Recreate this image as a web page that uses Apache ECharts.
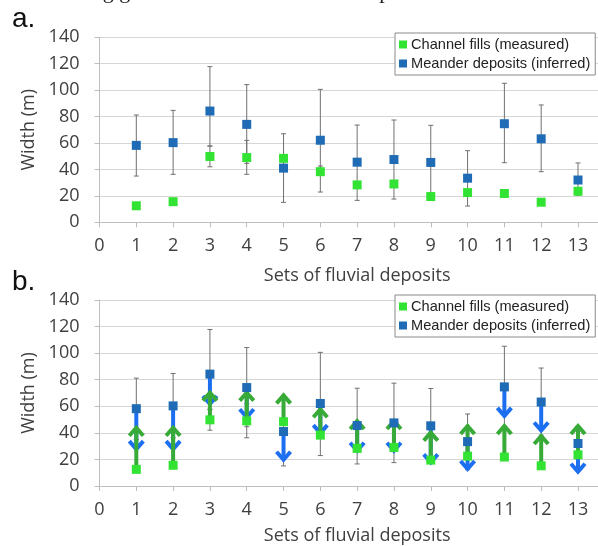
<!DOCTYPE html>
<html>
<head>
<meta charset="utf-8">
<script src="https://cdn.jsdelivr.net/npm/echarts@6/dist/echarts.min.js"></script>
<style>
  html, body { margin: 0; padding: 0; background: #fff; }
  #main { width: 598px; height: 546px; }
</style>
</head>
<body>
<div id="main"></div>
<script>
// sets of fluvial deposits
var sets = [1, 2, 3, 4, 5, 6, 7, 8, 9, 10, 11, 12, 13];
// widths (m)
var channelFills = [12.5, 15.6, 49.8, 49, 48.4, 38.3, 28.3, 29, 19.5, 22.5, 21.8, 15.2, 23.5];
var meanderDeposits = [58.2, 60.3, 84.2, 74.1, 41, 62.1, 45.5, 47.5, 45.3, 33.4, 74.6, 63.2, 32];
var meanderErrLow = [35, 36.3, 57.7, 44.6, 15.1, 22.9, 16.6, 17.6, 19, 12.3, 45.1, 38.3, 20.5];
var meanderErrHigh = [81.2, 84.7, 117.8, 104.2, 67, 100.6, 73.6, 77.4, 73.4, 54.2, 105.2, 88.8, 44.9];
var channelErrLow = [null, null, 42, 36.3, null, 38.3, null, null, null, null, null, null, null];
var channelErrHigh = [null, null, 57.7, 62, null, 42.6, null, null, null, null, null, null, null];
// panel b: arrow tips
var channelArrowTo = [44.6, 44.6, 71, 71, 69, 58.5, 49.7, 49.7, 40.9, 45.9, 45.9, 38.4, 45.9];
var meanderArrowTo = [27, 27, 61, 51, 19, 39, 25.8, 25.8, 17, 12, 52, 41, 10];
var yTicks = [0, 20, 40, 60, 80, 100, 120, 140];

var GREEN = '#33e333', BLUE = '#1f6bb5';
var GREEN_ARROW = '#38aa38', BLUE_ARROW = '#1c6ff0';
var NAME_C = 'Channel fills (measured)', NAME_M = 'Meander deposits (inferred)';

function pairs(ys) { return sets.map(function (x, i) { return [x, ys[i]]; }); }
function triples(a, b) {
  var out = [];
  sets.forEach(function (x, i) { if (a[i] != null) out.push([x, a[i], b[i]]); });
  return out;
}

function errRender(params, api) {
  var lo = api.coord([api.value(0), api.value(1)]);
  var hi = api.coord([api.value(0), api.value(2)]);
  var s = { stroke: '#707070', lineWidth: 1 };
  return { type: 'group', children: [
    { type: 'line', shape: { x1: lo[0], y1: lo[1], x2: hi[0], y2: hi[1] }, style: s },
    { type: 'line', shape: { x1: lo[0] - 2.5, y1: lo[1], x2: lo[0] + 2.5, y2: lo[1] }, style: s },
    { type: 'line', shape: { x1: hi[0] - 2.5, y1: hi[1], x2: hi[0] + 2.5, y2: hi[1] }, style: s }
  ]};
}
function arrowRender(color) {
  return function (params, api) {
    var a = api.coord([api.value(0), api.value(1)]);
    var b = api.coord([api.value(0), api.value(2)]);
    var d = b[1] > a[1] ? 1 : -1;
    var s = { stroke: color, lineWidth: 4, fill: null, lineJoin: 'miter', lineCap: 'butt' };
    return { type: 'group', children: [
      { type: 'line', shape: { x1: a[0], y1: a[1], x2: b[0], y2: b[1] - d * 2 }, style: s },
      { type: 'polyline', shape: { points: [[b[0] - 7, b[1] - d * 9], [b[0], b[1] - d * 1], [b[0] + 7, b[1] - d * 9]] }, style: s }
    ]};
  };
}

var axisFont = { fontFamily: 'Open Sans', fontSize: 18, color: '#404040' };
function xAx(gi, gap) {
  return {
    gridIndex: gi, type: 'value', min: 0, max: 14, interval: 1,
    name: 'Sets of fluvial deposits', nameLocation: 'middle', nameGap: gap,
    nameTextStyle: axisFont,
    axisLine: { show: true, lineStyle: { color: '#bdbdbd' } },
    axisTick: { show: true, length: 5, lineStyle: { color: '#bdbdbd' } },
    axisLabel: Object.assign({ margin: 15 }, axisFont),
    splitLine: { show: false }
  };
}
function yAx(gi) {
  return {
    gridIndex: gi, type: 'value', min: yTicks[0], max: yTicks[yTicks.length - 1], interval: 20,
    name: 'Width (m)', nameLocation: 'middle', nameGap: 55,
    nameTextStyle: axisFont,
    axisLine: { show: true, lineStyle: { color: '#bdbdbd' } },
    axisTick: { show: true, length: 5, lineStyle: { color: '#bdbdbd' } },
    axisLabel: Object.assign({ margin: 20 }, axisFont),
    splitLine: { show: true, lineStyle: { color: '#d6d6d6' } }
  };
}
function legendAt(top) {
  return {
    data: [NAME_C, NAME_M], orient: 'vertical', left: 395, top: top,
    icon: 'rect', itemWidth: 8, itemHeight: 8, itemGap: 4,
    padding: [4, 5, 4, 4], backgroundColor: '#fff', borderColor: '#8a8a8a', borderWidth: 1,
    textStyle: { fontFamily: 'Liberation Sans', fontSize: 14.6, color: '#222', padding: [0, 0, 0, -1] },
    selectedMode: false, z: 10
  };
}

var series = [];
[0, 1].forEach(function (gi) {
  series.push({ type: 'custom', xAxisIndex: gi, yAxisIndex: gi, renderItem: errRender,
    data: triples(meanderErrLow, meanderErrHigh), encode: { x: 0, y: [1, 2] }, z: 1, silent: true });
  series.push({ type: 'custom', xAxisIndex: gi, yAxisIndex: gi, renderItem: errRender,
    data: triples(channelErrLow, channelErrHigh), encode: { x: 0, y: [1, 2] }, z: 1, silent: true });
});
series.push({ type: 'custom', xAxisIndex: 1, yAxisIndex: 1, renderItem: arrowRender(BLUE_ARROW),
  data: triples(meanderDeposits, meanderArrowTo), encode: { x: 0, y: [1, 2] }, z: 2, silent: true });
series.push({ type: 'custom', xAxisIndex: 1, yAxisIndex: 1, renderItem: arrowRender(GREEN_ARROW),
  data: triples(channelFills, channelArrowTo), encode: { x: 0, y: [1, 2] }, z: 3, silent: true });
[0, 1].forEach(function (gi) {
  series.push({ name: NAME_C, type: 'scatter', xAxisIndex: gi, yAxisIndex: gi, symbol: 'rect', symbolSize: 9,
    itemStyle: { color: GREEN, opacity: 1 }, data: pairs(channelFills), z: 4 });
  series.push({ name: NAME_M, type: 'scatter', xAxisIndex: gi, yAxisIndex: gi, symbol: 'rect', symbolSize: 9,
    itemStyle: { color: BLUE, opacity: 1 }, data: pairs(meanderDeposits), z: 5 });
});

var chart = echarts.init(document.getElementById('main'), null, { renderer: 'canvas' });
chart.setOption({
  animation: false,
  backgroundColor: '#fff',
  grid: [
    { left: 99.5, top: 37.3, height: 185, width: 515.3, outerBoundsMode: 'none', containLabel: false },
    { left: 99.5, top: 300, height: 186, width: 515.3, outerBoundsMode: 'none', containLabel: false }
  ],
  xAxis: [xAx(0, 45), xAx(1, 41)],
  yAxis: [yAx(0), yAx(1)],
  legend: [legendAt(33), legendAt(295)],
  graphic: [
    { type: 'text', left: 22, top: -19, z: 20,
      style: { text: 'measuring grain-size data of meander deposits.', font: '22px "Liberation Serif"', fill: '#222' } },
    { type: 'text', left: 12, top: 5, z: 20,
      style: { text: 'a.', font: '28px "Liberation Sans"', fill: '#111' } },
    { type: 'text', left: 12, top: 268, z: 20,
      style: { text: 'b.', font: '28px "Liberation Sans"', fill: '#111' } }
  ],
  series: series
});
</script>
</body>
</html>
